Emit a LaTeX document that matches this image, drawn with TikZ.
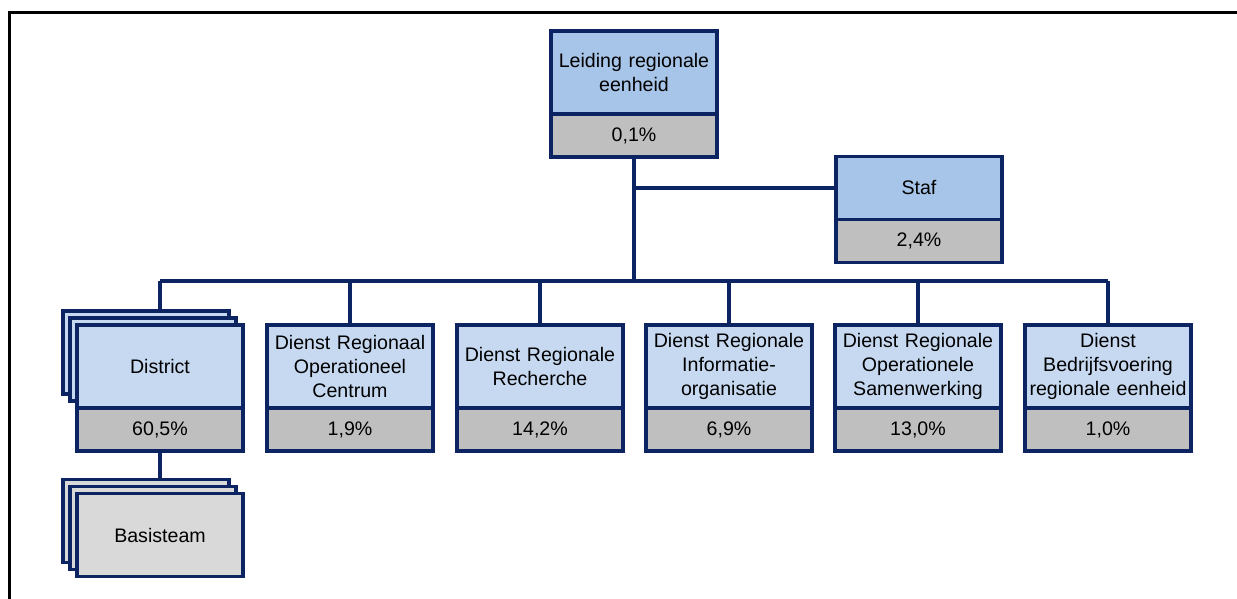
\documentclass[tikz,border=0pt]{standalone}
\usepackage{fontspec}
\setmainfont{Liberation Sans}
\usetikzlibrary{positioning}
\definecolor{navyline}{RGB}{12,36,98}
\definecolor{topblue}{RGB}{167,197,232}
\definecolor{unitblue}{RGB}{198,217,241}
\definecolor{pctgray}{RGB}{191,191,191}
\definecolor{teamgray}{RGB}{217,217,217}

\begin{document}
\begin{tikzpicture}[x=0.5pt, y=-0.5pt,
   namebox/.style={draw=navyline, line width=1.75pt, rectangle, fill=unitblue,
     minimum width=83pt, minimum height=41.5pt, text width=81pt, align=center,
     inner sep=0pt, outer sep=0pt, font=\fontsize{9.8}{12.2}\selectfont},
   topbox/.style={namebox, fill=topblue},
   teambox/.style={namebox, fill=teamgray},
   pctbox/.style={namebox, fill=pctgray, minimum height=21.5pt},
   conn/.style={draw=navyline, line width=1.75pt}
   ]

   \useasboundingbox (0,0) rectangle (1237,599);
   \draw[line width=1.5pt] (9,599) -- (9,13) -- (1237,13);

   % top
   \node[topbox] (leid) at (634,72.5) {Leiding regionale\\eenheid};
   \node[pctbox, below=0pt of leid] (leidpct) {0,1\%};
   \node[topbox, minimum height=31.5pt] (staf) at (919,188) {Staf};
   \node[pctbox, below=0pt of staf] (stafpct) {2,4\%};

   % district, stacked
   \node[namebox] (distB) at (146,352.5) {};
   \node[namebox] (distA) at (153,359.5) {};
   \node[namebox] (dist) at (160,366.5) {District};
   \node[pctbox, below=0pt of dist] (distpct) {60,5\%};

   \node[teambox] (teamB) at (146,521) {};
   \node[teambox] (teamA) at (153,528) {};
   \node[teambox] (team) at (160,535) {Basisteam};

   % diensten
   \node[namebox] (droc) at (350,366.5) {Dienst Regionaal\\Operationeel\\Centrum};
   \node[pctbox, below=0pt of droc] (drocpct) {1,9\%};
   \node[namebox] (drr) at (540,366.5) {Dienst Regionale\\Recherche};
   \node[pctbox, below=0pt of drr] (drrpct) {14,2\%};
   \node[namebox] (drio) at (729,366.5) {Dienst Regionale\\Informatie-\\organisatie};
   \node[pctbox, below=0pt of drio] (driopct) {6,9\%};
   \node[namebox] (dros) at (918,366.5) {Dienst Regionale\\Operationele\\Samenwerking};
   \node[pctbox, below=0pt of dros] (drospct) {13,0\%};
   \node[namebox] (dbv) at (1108,366.5) {Dienst\\Bedrijfsvoering\\regionale eenheid};
   \node[pctbox, below=0pt of dbv] (dbvpct) {1,0\%};

   % lines
   \coordinate (busL) at (160,281);
   \coordinate (busR) at (1108,281);
   \draw[conn] (busL) -- (busR);
   \draw[conn] (leidpct.south) -- (leidpct.south |- busL);
   \draw[conn] (leidpct.south |- staf.west) -- (staf.west);
   \draw[conn] (dist.north |- distB.north) -- (busL);
   \foreach \d in {droc,drr,drio,dros,dbv}
     \draw[conn] (\d.north) -- (\d.north |- busL);
   \draw[conn] (distpct.south) -- (distpct.south |- teamB.north);

\end{tikzpicture}
\end{document}
